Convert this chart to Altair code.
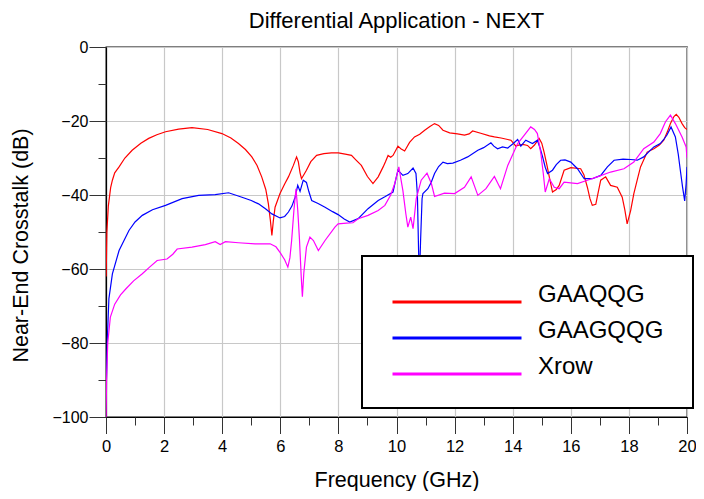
import altair as alt
import pandas as pd

SERIES = ["GAAQQG", "GAAGQQG", "Xrow"]
COLORS = ["#ff0000", "#0000ff", "#ff00ff"]

red_x = [0.005, 0.03, 0.08, 0.16, 0.22, 0.3, 0.45, 0.65, 0.9, 1.2, 1.47, 1.75, 2.05, 2.5, 2.96, 3.5, 3.99, 4.3, 4.56, 4.8,
         5.02, 5.2, 5.36, 5.5, 5.59, 5.66, 5.71, 5.76, 5.82, 5.99, 6.15, 6.28, 6.45, 6.56, 6.62, 6.68, 6.73, 6.9, 7.05, 7.25,
         7.5, 7.76, 8.0, 8.28, 8.45, 8.6, 8.79, 9.0, 9.19, 9.37, 9.54, 9.62, 9.71, 9.8, 9.88, 10.05, 10.15, 10.28, 10.45, 10.62,
         10.8, 10.97, 11.15, 11.31, 11.45, 11.6, 11.83, 12.1, 12.34, 12.5, 12.62, 12.9, 13.2, 13.37, 13.6, 13.83, 13.94, 14.11, 14.17, 14.35,
         14.51, 14.62, 14.75, 14.91, 15.0, 15.08, 15.18, 15.26, 15.37, 15.5, 15.6, 15.77, 16.0, 16.34, 16.45, 16.57, 16.66, 16.74, 16.86, 16.95,
         17.03, 17.2, 17.37, 17.6, 17.77, 17.86, 17.94, 18.06, 18.17, 18.3, 18.4, 18.63, 18.86, 19.05, 19.2, 19.32, 19.43, 19.55, 19.63, 19.72,
         19.83, 19.92, 20.0]
red_y = [-62, -50, -43, -38, -36, -34, -32.4, -30, -27.9, -26, -24.7, -23.7, -22.9, -22.2, -21.8, -22.3, -23.4, -24.6, -26.1, -27.7,
         -29.7, -32, -35.1, -38.5, -42.4, -47, -50.9, -47, -43.3, -39.6, -37, -35.1, -32, -29.7, -31, -34, -35.6, -33.3, -31, -29.3,
         -28.8, -28.6, -28.6, -29, -29.3, -30.5, -32, -35, -36.9, -35.1, -32.4, -31, -29.3, -29.8, -29.3, -26.8, -27.5, -28.1, -25.8, -24.3,
         -23.6, -22.5, -21.5, -20.7, -21.2, -22.5, -23.2, -23.5, -23.8, -23.5, -22.7, -23.3, -24, -24.3, -24.6, -25, -25.2, -26.8, -26.6, -26.3,
         -26.6, -27.5, -26.5, -24.7, -26, -28.4, -32, -35.1, -39.2, -38.5, -37.4, -33.3, -32.6, -32.9, -34.5, -37.9, -41, -42.8, -42.5, -39,
         -36, -35.1, -37.4, -37.9, -40.6, -44, -47.8, -44.2, -39.6, -35.5, -32.4, -28.4, -27.5, -26.5, -25.2, -23, -20.7, -18.8, -18.2, -19,
         -20.7, -21.8, -22.3]

blue_x = [0.01, 0.04, 0.1, 0.22, 0.45, 0.79, 1.0, 1.25, 1.6, 2.05, 2.62, 3.19, 3.76, 4.22, 4.68, 5.0, 5.25, 5.5, 5.71, 5.99,
          6.15, 6.28, 6.4, 6.51, 6.6, 6.68, 6.79, 6.9, 6.98, 7.08, 7.3, 7.54, 7.8, 7.99, 8.2, 8.39, 8.68, 9.02, 9.37, 9.6,
          9.88, 9.97, 10.05, 10.22, 10.39, 10.57, 10.67, 10.72, 10.76, 10.79, 10.83, 10.88, 10.91, 11.08, 11.2, 11.31, 11.45, 11.6, 11.75, 11.94,
          12.2, 12.45, 12.8, 13.0, 13.25, 13.35, 13.48, 13.65, 13.83, 14.0, 14.17, 14.28, 14.45, 14.68, 14.85, 14.95, 15.03, 15.12, 15.2, 15.37,
          15.5, 15.65, 15.8, 16.0, 16.23, 16.46, 16.74, 17.03, 17.26, 17.49, 17.8, 18.06, 18.29, 18.51, 18.7, 18.86, 19.08, 19.2, 19.31, 19.45,
          19.6, 19.7, 19.77, 19.85, 19.92, 19.97, 20.0]
blue_y = [-92, -80, -68, -61.3, -55, -49.6, -47.3, -45.5, -44, -42.8, -41, -40.1, -39.9, -39.4, -40.6, -41.5, -42.4, -43.8, -45.1, -46.2,
          -45.8, -44.6, -43, -40.6, -37.4, -39, -36, -36.6, -39, -41.5, -42.3, -43.3, -44.5, -45.3, -46.5, -47.3, -46.4, -43.7, -41.5, -40.5,
          -39.2, -36, -33.3, -34.7, -34.2, -32.7, -34.2, -40, -55, -63, -52, -41, -39.6, -38.3, -36.5, -34.2, -32.3, -31.1, -31.5, -31.4,
          -30.6, -29.7, -27.9, -27.2, -25.9, -26.8, -27.5, -27, -27.3, -26.2, -25, -26.8, -25.2, -26.1, -25.2, -27.5, -29.7, -32.5, -34.2, -33.3,
          -31.8, -30.6, -30.5, -31.1, -32.9, -35.6, -35.6, -34.7, -32.4, -30.6, -30.3, -30.4, -30.6, -29.7, -28.2, -27, -26.1, -25, -23.8, -21.6,
          -24.3, -29, -33.3, -38, -41.6, -37, -32.4]

mag_x = [0.003, 0.02, 0.06, 0.15, 0.3, 0.5, 0.68, 0.95, 1.25, 1.5, 1.76, 2.1, 2.3, 2.45, 2.96, 3.42, 3.76, 3.93, 4.11, 4.56,
         5.13, 5.65, 5.85, 5.99, 6.15, 6.26, 6.33, 6.39, 6.47, 6.54, 6.6, 6.66, 6.72, 6.76, 6.81, 6.9, 7.02, 7.14, 7.31, 7.54,
         7.88, 7.99, 8.28, 8.5, 8.68, 9.02, 9.37, 9.6, 9.8, 9.94, 10.08, 10.22, 10.32, 10.39, 10.49, 10.57, 10.68, 10.85, 11.05, 11.2,
         11.31, 11.65, 12.0, 12.34, 12.57, 12.8, 13.08, 13.37, 13.58, 13.83, 14.17, 14.4, 14.62, 14.75, 14.85, 14.97, 15.05, 15.12, 15.26, 15.43,
         15.6, 15.77, 16.23, 16.57, 16.91, 17.37, 17.83, 18.17, 18.51, 18.86, 19.08, 19.26, 19.43, 19.6, 19.83, 19.97, 20.0]
mag_y = [-100, -90, -80, -73, -69.5, -67, -65.4, -63.2, -61.3, -59.5, -57.7, -57.3, -56, -54.6, -54.1, -53.4, -52.6, -53.4, -52.6, -52.9,
         -53.2, -53.2, -54, -55.5, -57.5, -59.5, -57, -52.3, -44, -38.3, -44, -52, -62, -67.5, -61, -54.1, -51.4, -52.3, -55, -52.3,
         -48.7, -47.8, -47.6, -47.5, -46.4, -45.5, -44.2, -42.8, -40, -36.9, -32.4, -38.8, -45, -48.7, -46, -49.1, -41, -36, -34.1, -36.9,
         -40.4, -39.5, -39.6, -37.9, -35.1, -40.1, -38.3, -35, -38.3, -32, -26.1, -23.8, -21.6, -22.3, -23.4, -28.8, -34, -39.2, -35.6, -37.9,
         -38.3, -36.5, -36.9, -36, -35.1, -33.8, -32.9, -31.1, -27.5, -25.7, -23.4, -20.2, -18.4, -20.7, -24.3, -27, -30]

MAJOR_X = [0, 2, 4, 6, 8, 10, 12, 14, 16, 18, 20]
MINOR_X = list(range(0, 21))
MAJOR_Y = [-100, -80, -60, -40, -20, 0]
MINOR_Y = list(range(-100, 1, 10))

rows = []
for name, xs, ys in [(SERIES[0], red_x, red_y), (SERIES[1], blue_x, blue_y), (SERIES[2], mag_x, mag_y)]:
    for xv, yv in zip(xs, ys):
        rows.append({"series": name, "freq": xv, "db": yv})
df = pd.DataFrame(rows)

FONT = "Liberation Sans"
xscale = alt.Scale(domain=[0, 20], nice=False, zero=False)
yscale = alt.Scale(domain=[-100, 0], nice=False, zero=False)

base = alt.Chart(df)

lines = base.mark_line(strokeWidth=1.2, clip=True).encode(
    x=alt.X("freq:Q", scale=xscale, axis=alt.Axis(
        orient="bottom", values=MAJOR_X, tickSize=16.5, grid=True, title="Frequency (GHz)",
        labelPadding=5, titlePadding=14, format="d", labelFlush=False, labelFontSize=16.5)),
    y=alt.Y("db:Q", scale=yscale, axis=alt.Axis(
        orient="left", values=MAJOR_Y, tickSize=17, grid=True, title="Near-End Crosstalk (dB)",
        labelPadding=1, titlePadding=19, titleY=198, format="d", labelFlush=False, labelFontSize=16)),
    color=alt.Color("series:N", scale=alt.Scale(domain=SERIES, range=COLORS), sort=SERIES,
                    legend=alt.Legend(
                        orient="none", legendX=256, legendY=209, title=" ",
                        titleFontSize=8, titlePadding=4,
                        symbolType="stroke", symbolSize=129 * 129, symbolStrokeWidth=3, symbolOffset=0,
                        labelFontSize=24, labelFont=FONT, labelColor="black", labelOffset=15,
                        labelBaseline="alphabetic",
                        clipHeight=10, rowPadding=12, padding=29,
                        strokeColor="black", fillColor="white")),
    order=alt.Order("freq:Q"),
)

minor = base.mark_line(opacity=0).encode(
    x=alt.X("freq:Q", scale=xscale, axis=alt.Axis(
        orient="bottom", values=MINOR_X, tickSize=8, grid=False, labels=False, domain=False, title=None)),
    y=alt.Y("db:Q", scale=yscale, axis=alt.Axis(
        orient="left", values=MINOR_Y, tickSize=8, grid=False, labels=False, domain=False, title=None)),
)

chart = alt.layer(lines, minor).resolve_axis(x="independent", y="independent").properties(
    width=581, height=370,
    autosize="none",
    padding={"left": 98, "top": 39, "right": 9, "bottom": 74},
    title=alt.Title("Differential Application - NEXT", fontSize=22, font=FONT, fontWeight="normal",
                    anchor="middle", frame="group", offset=6, color="black"),
).configure_view(stroke="black", strokeWidth=1.3).configure_axis(
    labelFont=FONT, labelColor="black", titleFont=FONT, titleFontSize=21.5,
    titleFontWeight="normal", titleColor="black", domainColor="black", tickColor="#333333",
    gridColor="#c8c8c8", gridWidth=1.2, domainWidth=1.2,
).configure_legend(strokeWidth=2)

chart.save("out.html", embed_options={"renderer": "svg", "actions": False})
